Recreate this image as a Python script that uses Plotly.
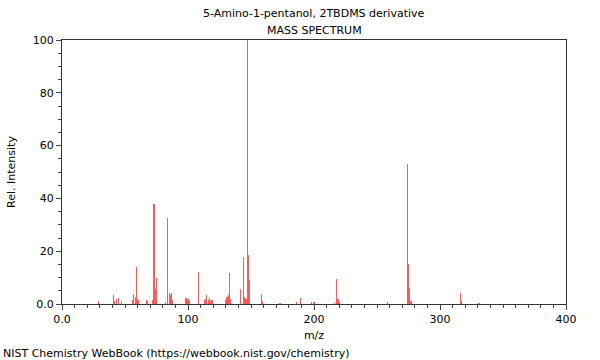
import plotly.graph_objects as go

mz = [29, 41, 42, 43, 45, 47, 56, 57, 58, 59, 60, 61, 67, 68, 72, 73, 74, 75,
      82, 84, 85, 86, 87, 88, 98, 99, 100, 101, 108, 113, 114, 115, 116, 117,
      118, 119, 130, 131, 132, 133, 134, 142, 144, 145, 146, 147, 148, 149,
      158, 159, 173, 186, 189, 198, 200, 216, 218, 219, 220, 258, 274, 275,
      276, 277, 316, 317, 331]
intensity = [1.3, 3.4, 1.2, 2.0, 2.4, 1.0, 1.5, 3.9, 2.7, 14.1, 2.0, 1.5, 1.5, 1.0,
             1.5, 37.9, 5.7, 9.7, 0.8, 32.4, 4.0, 3.4, 4.0, 1.5, 2.1, 2.1, 2.0, 1.0,
             12.2, 1.5, 2.0, 3.4, 1.5, 2.1, 1.2, 1.7, 1.5, 2.8, 3.5, 11.6, 2.0, 5.6,
             17.9, 2.5, 2.0, 100.0, 18.6, 9.1, 3.8, 1.2, 0.5, 0.6, 2.4, 0.6, 0.8,
             0.5, 9.3, 1.9, 0.6, 0.6, 53.0, 15.0, 6.2, 1.0, 4.0, 1.0, 0.4]

y_tickvals = [0, 20, 40, 60, 80, 100]
y_ticktext = ["0.0", "20", "40", "60", "80", "100"]
x_tickvals = [0, 100, 200, 300, 400]
x_ticktext = ["0.0", "100", "200", "300", "400"]

title_lines = ["5-Amino-1-pentanol, 2TBDMS derivative", "MASS SPECTRUM"]
footer = "NIST Chemistry WebBook (https://webbook.nist.gov/chemistry)"

FONT = "DejaVu Sans"

fig = go.Figure()
fig.add_trace(go.Bar(
    x=mz, y=intensity, width=0.9,
    marker=dict(color="rgba(255,0,0,0.65)", line=dict(width=0)),
    showlegend=False, hoverinfo="x+y",
))

fig.update_layout(
    width=600, height=360,
    margin=dict(l=62, r=34, t=40, b=56, autoexpand=False),
    paper_bgcolor="white", plot_bgcolor="white",
    font=dict(family=FONT, size=11, color="black"),
    bargap=0,
)

fig.update_xaxes(
    range=[0, 400], tickvals=x_tickvals, ticktext=x_ticktext,
    ticks="outside", ticklen=5, tickcolor="#444", tickwidth=1,
    minor=dict(dtick=10, ticks="outside", ticklen=3, tickcolor="#444"),
    showline=True, linecolor="#333", linewidth=1, mirror=True,
    showgrid=False, zeroline=False,
    title=dict(text="m/z", font=dict(size=11), standoff=6),
    tickfont=dict(size=11),
)
fig.update_yaxes(
    range=[0, 100], tickvals=y_tickvals, ticktext=y_ticktext,
    ticks="outside", ticklen=5, tickcolor="#444", tickwidth=1,
    minor=dict(dtick=5, ticks="outside", ticklen=3, tickcolor="#444"),
    showline=True, linecolor="#333", linewidth=1, mirror=True,
    showgrid=False, zeroline=False,
    title=dict(text="Rel. Intensity", font=dict(size=11), standoff=14),
    tickfont=dict(size=11),
)

fig.add_annotation(text=title_lines[0], xref="paper", yref="paper", x=0.5, y=1,
                   yshift=27, showarrow=False, xanchor="center", yanchor="middle",
                   font=dict(size=11))
fig.add_annotation(text=title_lines[1], xref="paper", yref="paper", x=0.5, y=1,
                   yshift=10, showarrow=False, xanchor="center", yanchor="middle",
                   font=dict(size=11))
fig.add_annotation(text=footer, xref="paper", yref="paper", x=0, y=0,
                   xshift=-61, yshift=-49, showarrow=False, xanchor="left",
                   yanchor="middle", font=dict(size=11))

fig.write_html("out.html", config={"displayModeBar": False},
               post_script="document.body.style.margin='0';document.body.style.padding='0';")
